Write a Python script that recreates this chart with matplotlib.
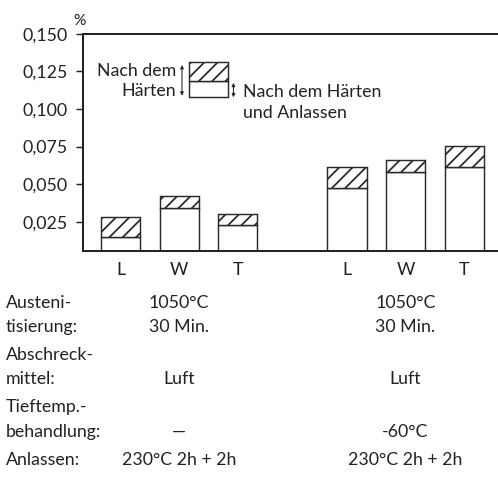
import numpy as np
import matplotlib
matplotlib.use('Agg')
import matplotlib.pyplot as plt
import matplotlib.transforms as mtransforms

plt.rcParams['font.family'] = ['Lato', 'DejaVu Sans']
plt.rcParams['hatch.linewidth'] = 1.6

# data
labels = ['L', 'W', 'T', 'L', 'W', 'T']
positions = [0, 1, 2, 3.87, 4.87, 5.87]
after_hardening = [0.0279, 0.0421, 0.0299, 0.0614, 0.0658, 0.0755]
after_tempering = [0.0148, 0.0339, 0.0230, 0.0476, 0.0578, 0.0616]
yticks = [0.025, 0.050, 0.075, 0.100, 0.125, 0.150]
ytick_labels = ['0,025', '0,050', '0,075', '0,100', '0,125', '0,150']
y_bottom = 0.0056

row_labels = [['Austeni-', 'tisierung:'], ['Abschreck-', 'mittel:'],
              ['Tieftemp.-', 'behandlung:'], ['Anlassen:']]
group1 = [['1050°C', '30 Min.'], ['', 'Luft'], ['', '—'], ['230°C 2h + 2h']]
group2 = [['1050°C', '30 Min.'], ['', 'Luft'], ['', '-60°C'], ['230°C 2h + 2h']]
group_x = [1, 4.87]

DPI = 80
fig = plt.figure(figsize=(498 / DPI, 477 / DPI), dpi=DPI)
ax = fig.add_axes([82.5 / 498, 1 - 251 / 477, 1 - 82.5 / 498, (251 - 33.7) / 477])

edge = '#2a2a2a'
w = 0.667
hard_part = np.array(after_hardening) - np.array(after_tempering)
ax.bar(positions, np.array(after_tempering) - y_bottom, bottom=y_bottom, width=w,
       color='white', edgecolor=edge, linewidth=1.3)
ax.bar(positions, hard_part, bottom=after_tempering, width=w,
       color='white', edgecolor=edge, linewidth=1.3, hatch='//')

# legend-like sample box
ax.bar([1.5], [0.1186 - 0.1077], bottom=0.1077, width=w, color='white',
       edgecolor=edge, linewidth=1.3)
ax.bar([1.5], [0.131 - 0.1186], bottom=0.1186, width=w, color='white',
       edgecolor=edge, linewidth=1.3, hatch='//')
arr = dict(arrowstyle='<|-|>', color=edge, lw=1.0, mutation_scale=6,
           shrinkA=0, shrinkB=0)
ax.annotate('', xy=(1.05, 0.1292), xytext=(1.05, 0.1088), arrowprops=arr)
ax.annotate('', xy=(1.93, 0.1174), xytext=(1.93, 0.1077), arrowprops=arr)
fs = 16
ax.text(0.95, 0.1254, 'Nach dem', ha='right', va='center', fontsize=fs, color='#222')
ax.text(0.95, 0.1119, 'Härten', ha='right', va='center', fontsize=fs, color='#222')
ax.text(2.1, 0.1110, 'Nach dem Härten', ha='left', va='center', fontsize=fs, color='#222')
ax.text(2.1, 0.0971, 'und Anlassen', ha='left', va='center', fontsize=fs, color='#222')

ax.set_xlim(-0.65, 6.45)
ax.set_ylim(y_bottom, 0.150)
ax.set_yticks(yticks)
ax.set_yticklabels(ytick_labels)
ax.set_xticks(positions)
ax.set_xticklabels(labels)
ax.tick_params(axis='y', direction='out', length=6, width=1.3, pad=7,
               labelsize=16, colors='#222')
ax.tick_params(axis='x', length=0, pad=10, labelsize=16, colors='#222')
ax.spines['right'].set_visible(False)
for s in ['left', 'top', 'bottom']:
    ax.spines[s].set_linewidth(1.8)
    ax.spines[s].set_color('#222')
ax.text(-0.008, 1.058, '%', transform=ax.transAxes, ha='center', va='center',
        fontsize=14, color='#222')

# treatment table below the chart
trans = mtransforms.blended_transform_factory(ax.transData, fig.transFigure)
baselines = [[308.3, 331.7], [360, 384], [411.7, 436.7], [465]]
for i, lines in enumerate(row_labels):
    for j, txt in enumerate(lines):
        fig.text(6 / 498, 1 - baselines[i][j] / 477, txt, ha='left',
                 va='baseline', fontsize=fs, color='#222')
    for gx, grp in zip(group_x, [group1, group2]):
        for j, txt in enumerate(grp[i]):
            if txt:
                ax.text(gx, 1 - baselines[i][j] / 477, txt, transform=trans,
                        ha='center', va='baseline', fontsize=fs, color='#222',
                        clip_on=False)

fig.savefig('out.png', dpi=DPI)
